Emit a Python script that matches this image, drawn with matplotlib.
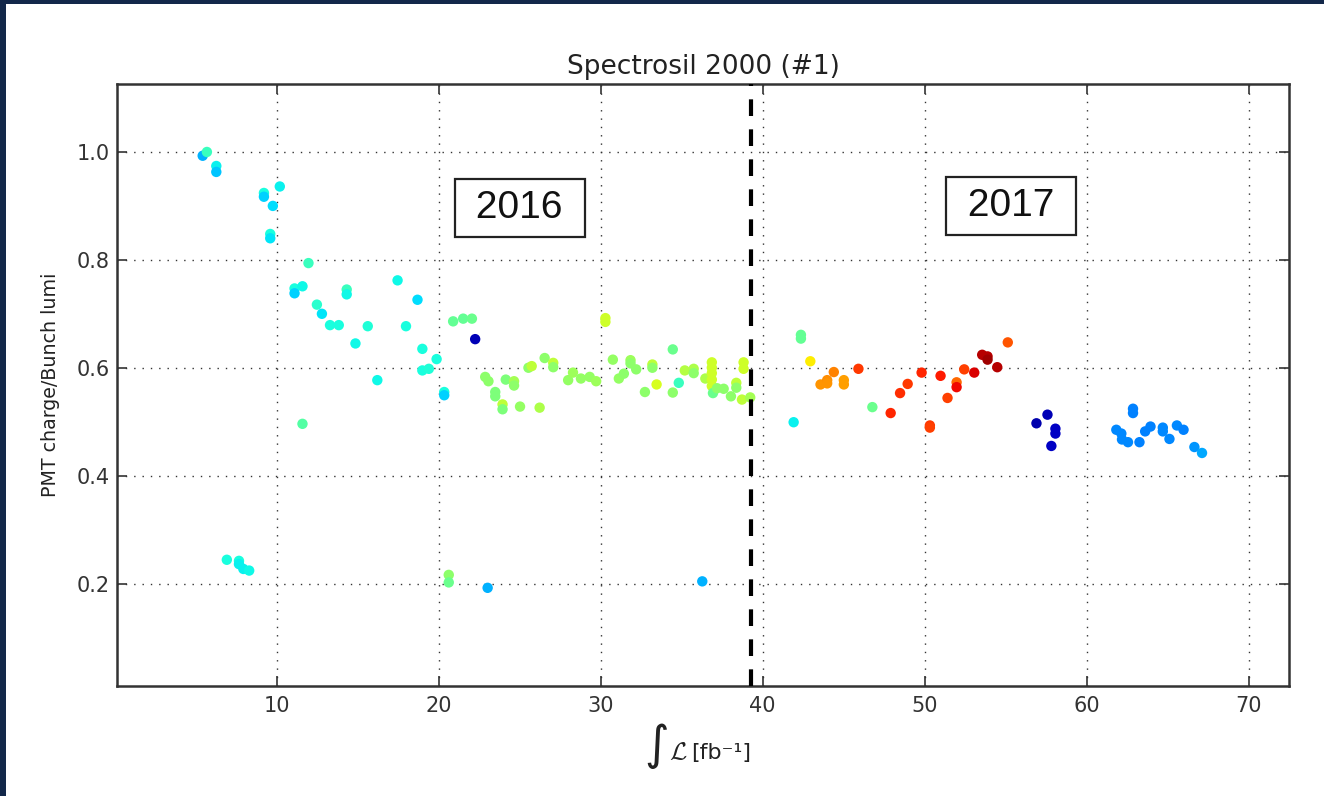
import matplotlib
matplotlib.use("Agg")
import matplotlib.pyplot as plt
from matplotlib.patches import Rectangle

# ---- data ----
lumi = [5.44, 5.70, 6.28, 6.28, 9.22, 9.22, 10.20, 9.77, 9.61, 9.61,
        11.97, 11.11, 11.11, 11.60, 12.49, 12.80, 13.30, 13.84, 14.33, 14.33,
        14.87, 15.63, 16.22, 17.47, 17.99, 18.70, 19.00, 19.00, 19.40, 19.88,
        20.35, 20.35, 11.60, 20.90, 21.52, 22.06, 22.26, 22.88, 23.08, 23.50,
        23.50, 23.95, 23.95, 24.15, 24.66, 24.66, 25.03, 25.55, 25.75, 26.24,
        26.55, 27.08, 27.08, 28.00, 28.30, 28.79, 29.33, 29.73, 30.30, 30.30,
        30.76, 31.13, 31.44, 31.85, 31.85, 32.20, 32.74, 33.20, 33.20, 33.46,
        34.46, 34.46, 34.83, 35.20, 35.75, 35.75, 36.47, 36.87, 36.87, 36.87,
        36.87, 36.87, 36.94, 37.19, 37.60, 38.05, 38.38, 38.38, 38.73, 38.83,
        38.83, 39.24,
        6.93, 7.68, 7.68, 7.95, 8.31, 20.63, 20.63, 23.03, 36.28,
        41.92, 42.37, 42.37, 42.95, 43.58, 43.99, 43.99, 44.40, 45.02, 45.02,
        45.92, 46.78, 47.91, 48.49, 48.96, 49.82, 50.33, 50.33, 50.99, 51.42,
        51.98, 51.98, 52.45, 53.07, 53.56, 53.89, 53.89, 54.49, 55.14,
        56.91, 57.59, 58.08, 58.08, 57.83,
        62.87, 62.87, 61.84, 62.15, 62.19, 62.56, 63.27, 63.62, 63.95, 64.71,
        64.71, 65.12, 65.58, 65.99, 66.66, 67.13]

ratio = [0.993, 1.000, 0.974, 0.963, 0.924, 0.917, 0.936, 0.900, 0.848, 0.840,
         0.794, 0.747, 0.738, 0.751, 0.717, 0.700, 0.679, 0.679, 0.745, 0.736,
         0.645, 0.677, 0.577, 0.762, 0.677, 0.726, 0.635, 0.595, 0.598, 0.616,
         0.555, 0.549, 0.496, 0.686, 0.691, 0.691, 0.653, 0.583, 0.575, 0.555,
         0.547, 0.532, 0.523, 0.578, 0.575, 0.567, 0.528, 0.600, 0.603, 0.526,
         0.618, 0.609, 0.601, 0.577, 0.591, 0.580, 0.583, 0.575, 0.692, 0.685,
         0.615, 0.580, 0.589, 0.614, 0.608, 0.597, 0.555, 0.606, 0.600, 0.569,
         0.634, 0.554, 0.572, 0.595, 0.598, 0.590, 0.580, 0.610, 0.600, 0.590,
         0.578, 0.566, 0.553, 0.562, 0.561, 0.547, 0.572, 0.563, 0.541, 0.610,
         0.598, 0.545,
         0.244, 0.242, 0.236, 0.227, 0.224, 0.216, 0.202, 0.192, 0.204,
         0.499, 0.661, 0.654, 0.612, 0.569, 0.577, 0.571, 0.592, 0.577, 0.569,
         0.598, 0.527, 0.516, 0.553, 0.570, 0.591, 0.493, 0.489, 0.585, 0.544,
         0.573, 0.564, 0.597, 0.591, 0.624, 0.621, 0.615, 0.601, 0.647,
         0.497, 0.513, 0.487, 0.478, 0.455,
         0.524, 0.516, 0.485, 0.478, 0.467, 0.462, 0.462, 0.482, 0.491, 0.489,
         0.482, 0.468, 0.493, 0.485, 0.453, 0.442]

colour_value = [0.30, 0.42, 0.36, 0.32, 0.38, 0.33, 0.36, 0.34, 0.38, 0.35,
                0.42, 0.38, 0.33, 0.37, 0.40, 0.35, 0.38, 0.38, 0.42, 0.37,
                0.37, 0.39, 0.37, 0.37, 0.38, 0.34, 0.38, 0.38, 0.39, 0.38,
                0.38, 0.33, 0.45, 0.47, 0.47, 0.48, 0.05, 0.52, 0.52, 0.50,
                0.50, 0.58, 0.50, 0.50, 0.55, 0.52, 0.53, 0.52, 0.58, 0.56,
                0.52, 0.58, 0.52, 0.53, 0.54, 0.53, 0.53, 0.54, 0.60, 0.60,
                0.53, 0.53, 0.52, 0.54, 0.52, 0.52, 0.52, 0.58, 0.52, 0.61,
                0.48, 0.52, 0.42, 0.57, 0.56, 0.52, 0.56, 0.60, 0.60, 0.60,
                0.60, 0.60, 0.48, 0.52, 0.52, 0.52, 0.58, 0.52, 0.58, 0.60,
                0.60, 0.55,
                0.38, 0.38, 0.36, 0.36, 0.37, 0.52, 0.48, 0.30, 0.30,
                0.36, 0.47, 0.47, 0.66, 0.75, 0.76, 0.75, 0.77, 0.74, 0.74,
                0.85, 0.48, 0.87, 0.86, 0.85, 0.87, 0.85, 0.84, 0.88, 0.84,
                0.80, 0.90, 0.84, 0.92, 0.95, 0.95, 0.97, 0.95, 0.82,
                0.04, 0.05, 0.06, 0.06, 0.06,
                0.25, 0.25, 0.26, 0.26, 0.26, 0.26, 0.25, 0.25, 0.25, 0.26,
                0.26, 0.26, 0.26, 0.25, 0.27, 0.29]

year_boundary = 39.3
year_labels = ["2016", "2017"]
year_label_x = [25.0, 55.35]
year_label_y = [0.896, 0.9]

x_ticks = [10, 20, 30, 40, 50, 60, 70]
y_ticks = [0.2, 0.4, 0.6, 0.8, 1.0]

# ---- figure ----
W, H = 1324, 796
fig = plt.figure(figsize=(W / 100, H / 100), dpi=100)
fig.patch.set_facecolor("white")
navy = "#13284a"
fig.patches.append(Rectangle((0, 0), 6 / W, 1, transform=fig.transFigure,
                             facecolor=navy, edgecolor="none", zorder=-10))
fig.patches.append(Rectangle((0, 1 - 4 / H), 1, 4 / H, transform=fig.transFigure,
                             facecolor=navy, edgecolor="none", zorder=-10))

ax = fig.add_axes([117 / W, 1 - 686 / H, (1289 - 117) / W, (686 - 84) / H])
ax.set_facecolor("white")

ax.scatter(lumi, ratio, c=colour_value, cmap="jet", vmin=0, vmax=1,
           s=56, edgecolors="none", zorder=3)

ax.axvline(year_boundary, color="black", linestyle="--", linewidth=3,
           dashes=(4, 3.2), zorder=4)

for lab, tx, ty in zip(year_labels, year_label_x, year_label_y):
    ax.text(tx, ty, " " + lab + " ", fontsize=28, family="Liberation Sans",
            ha="center", va="center", zorder=5, color="#111111",
            bbox=dict(boxstyle="square,pad=0.28", facecolor="white",
                      edgecolor="#222222", linewidth=1.6))

ax.set_xlim(0.15, 72.5)
ax.set_ylim(0.01, 1.126)
ax.set_xticks(x_ticks)
ax.set_yticks(y_ticks)
ax.set_yticklabels([f"{v:.1f}" for v in y_ticks])

ax.grid(True, color="#333333", linestyle=(0, (1, 5)), linewidth=1.0)
ax.set_axisbelow(True)

ax.tick_params(direction="in", length=7, width=1.2, top=True, right=True,
               labelsize=15, colors="#333333")
ax.tick_params(axis="y", pad=5)
ax.tick_params(axis="x", pad=7)
for sp in ax.spines.values():
    sp.set_linewidth(1.8)
    sp.set_color("#333333")

ax.set_title("Spectrosil 2000 (#1)", fontsize=19, pad=7, color="#222222")
ax.set_ylabel("PMT charge/Bunch lumi", fontsize=13.7, labelpad=12, color="#222222")

# x label: big integral sign, script L, unit
fig.text(644 / W, 1 - 759 / H, "∫", fontsize=34, family="DejaVu Sans",
         ha="left", va="baseline", color="#222222")
fig.text(669 / W, 1 - 759 / H, r"$\mathcal{L}$", fontsize=18, math_fontfamily="cm",
         ha="left", va="baseline", color="#222222")
fig.text(691 / W, 1 - 759 / H, "[fb⁻¹]", fontsize=16,
         ha="left", va="baseline", color="#222222")

fig.savefig("out.png", dpi=100)
